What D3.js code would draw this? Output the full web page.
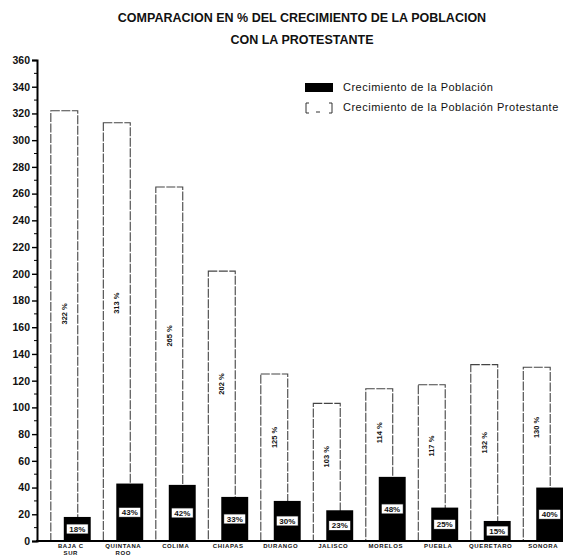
<!DOCTYPE html>
<html lang="es">
<head>
<meta charset="utf-8">
<script src="https://d3js.org/d3.v7.min.js"></script>
<style>
  body { margin: 0; background: #fff; }
  text { font-family: "Liberation Sans", Arial, sans-serif; fill: #111; }
</style>
</head>
<body>
<div id="chart"></div>
<script>
  // data
  const estados = ["BAJA C|SUR", "QUINTANA|ROO", "COLIMA", "CHIAPAS", "DURANGO",
                   "JALISCO", "MORELOS", "PUEBLA", "QUERETARO", "SONORA"];
  const protestante = [322, 313, 265, 202, 125, 103, 114, 117, 132, 130];
  const poblacion = [18, 43, 42, 33, 30, 23, 48, 25, 15, 40];
  const yTicks = d3.range(0, 361, 20);
  const legendItems = ["Crecimiento de la Población", "Crecimiento de la Población Protestante"];

  const W = 563, H = 557;
  const svg = d3.select("#chart").append("svg")
    .attr("width", W).attr("height", H);

  const x = d3.scaleBand().domain(estados)
    .range([44, 570]).paddingInner(0.24).paddingOuter(0.13);
  const y = d3.scaleLinear().domain([0, 360]).range([541, 60]);

  const bw = x.bandwidth();
  const barW = bw * 0.675, offset = bw * 0.325;

  // title
  svg.append("text").attr("x", 302).attr("y", 22)
    .attr("text-anchor", "middle").style("font-size", "12.5px").style("font-weight", "bold")
    .text("COMPARACION EN % DEL CRECIMIENTO DE LA POBLACION");
  svg.append("text").attr("x", 302).attr("y", 44)
    .attr("text-anchor", "middle").style("font-size", "12.5px").style("font-weight", "bold")
    .text("CON LA PROTESTANTE");

  const data = estados.map((e, i) => ({e: e, prot: protestante[i], pob: poblacion[i]}));

  // protestant growth: outlined bars
  svg.append("g").selectAll("rect").data(data).enter().append("rect")
    .attr("x", d => x(d.e))
    .attr("y", d => y(d.prot))
    .attr("width", barW)
    .attr("height", d => y(0) - y(d.prot))
    .attr("fill", "none")
    .attr("stroke", "#444")
    .attr("stroke-width", 1.1)
    .attr("stroke-dasharray", "9,1.5");

  svg.append("g").selectAll("text").data(data).enter().append("text")
    .attr("transform", d => "translate(" + (x(d.e) + barW / 2 + 2.5) + "," + y((d.prot + d.pob) / 2) + ")rotate(-90)")
    .attr("text-anchor", "middle")
    .style("font-size", "7.5px").style("font-weight", "bold")
    .text(d => d.prot + " %");

  // population growth: black bars
  svg.append("g").selectAll("rect").data(data).enter().append("rect")
    .attr("x", d => x(d.e) + offset)
    .attr("y", d => y(d.pob))
    .attr("width", barW)
    .attr("height", d => y(0) - y(d.pob))
    .attr("fill", "#000");

  const boxes = svg.append("g").selectAll("g").data(data).enter().append("g")
    .attr("transform", d => "translate(" + (x(d.e) + offset + barW / 2) + "," + y(d.pob / 2) + ")");
  boxes.append("rect").attr("x", -11).attr("y", -5).attr("width", 22).attr("height", 10)
    .attr("fill", "#fff").attr("stroke", "#000").attr("stroke-width", 0.8);
  boxes.append("text").attr("text-anchor", "middle").attr("dy", "0.35em")
    .style("font-size", "8px").style("font-weight", "bold")
    .text(d => d.pob + "%");

  // y axis
  const yAxis = svg.append("g").attr("transform", "translate(37,0)")
    .call(d3.axisLeft(y).tickValues(yTicks).tickSize(5).tickPadding(2));
  yAxis.select(".domain").attr("stroke", "#000").attr("stroke-width", 2);
  yAxis.selectAll(".tick line").attr("stroke", "#000").attr("stroke-width", 1.4);
  yAxis.selectAll(".tick text")
    .style("font-family", "'Liberation Sans', Arial, sans-serif")
    .style("font-size", "10.5px").style("font-weight", "bold").attr("fill", "#111");
  svg.append("g").selectAll("line").data(d3.range(10, 360, 20)).enter().append("line")
    .attr("x1", 34).attr("x2", 37)
    .attr("y1", d => y(d)).attr("y2", d => y(d))
    .attr("stroke", "#000").attr("stroke-width", 1);

  // baseline
  svg.append("line").attr("x1", 36).attr("x2", W)
    .attr("y1", y(0)).attr("y2", y(0))
    .attr("stroke", "#000").attr("stroke-width", 2);

  // category labels
  const cat = svg.append("g").selectAll("text").data(estados).enter().append("text")
    .attr("x", d => x(d) + bw / 2)
    .attr("y", 548)
    .attr("text-anchor", "middle")
    .style("font-size", "6px").style("font-weight", "bold").style("letter-spacing", "0.6px");
  cat.each(function (d) {
    const parts = d.split("|");
    d3.select(this).selectAll("tspan").data(parts).enter().append("tspan")
      .attr("x", x(d) + bw / 2)
      .attr("dy", (p, i) => i === 0 ? 0 : 6.5)
      .text(p => p);
  });

  // legend
  const leg = svg.append("g");
  leg.append("rect").attr("x", 305).attr("y", 83).attr("width", 28).attr("height", 9).attr("fill", "#000");
  leg.append("path")
    .attr("d", "M309,103H306V113H309 M329,103H332V113H329 M316,112H320")
    .attr("fill", "none").attr("stroke", "#333").attr("stroke-width", 1);
  leg.selectAll("text").data(legendItems).enter().append("text")
    .attr("x", 343).attr("y", (d, i) => 91 + i * 20)
    .style("font-size", "11px").style("letter-spacing", "0.5px")
    .text(d => d);
</script>
</body>
</html>
